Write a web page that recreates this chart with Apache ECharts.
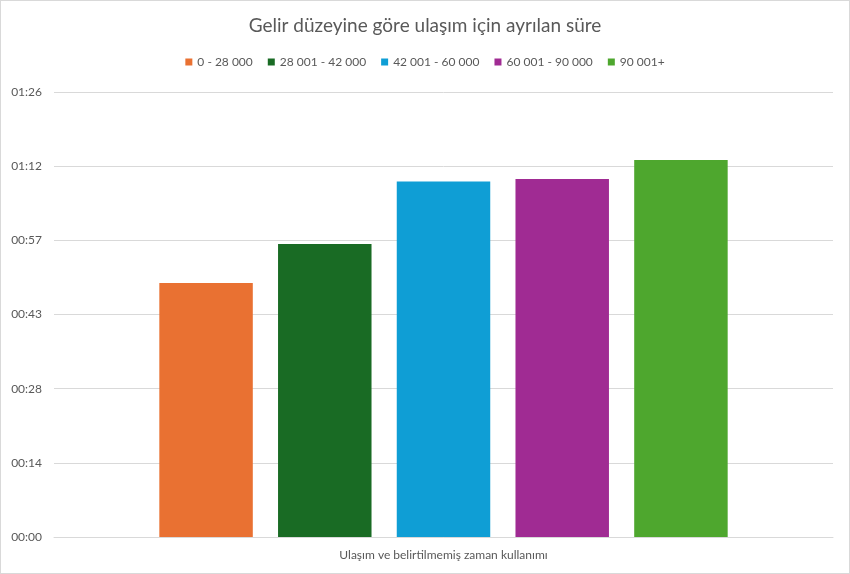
<!DOCTYPE html>
<html>
<head>
<meta charset="utf-8">
<script src="https://cdn.jsdelivr.net/npm/echarts@6/dist/echarts.min.js"></script>
<style>
    html, body { margin: 0; padding: 0; background: #fff; }
    #chart { width: 848px; height: 572px; border: 1px solid #d9d9d9; }
</style>
</head>
<body>
<div id="chart"></div>
<script>
// gelir grupları
var groups = ['0 - 28 000', '28 001 - 42 000', '42 001 - 60 000', '60 001 - 90 000', '90 001+'];
var colors = ['#e97132', '#196b24', '#0f9ed5', '#a02b93', '#4ea72e'];
var category = ['Ulaşım ve belirtilmemiş zaman kullanımı'];
// dakika cinsinden süre
var minutes = [49.3, 56.9, 69.0, 69.5, 73.2];

function toClock(v){   // dakika -> ss:dd
    var m = Math.floor(v + 1e-6);
    var h = Math.floor(m / 60);
    var mm = m % 60;
    return (h < 10 ? '0' : '') + h + ':' + (mm < 10 ? '0' : '') + mm;
}

var textColor = '#595959';
var fontFam = 'Lato, "Noto Sans", sans-serif';

var myChart = echarts.init(document.getElementById('chart'));

var option = {
    animation: false,
    title: {
        text: 'Gelir düzeyine göre ulaşım için ayrılan süre',
        left: 'center',
        top: 10,
        textStyle: {
            color: textColor,
            fontSize: 19,
            fontWeight: 'normal',
            fontFamily: fontFam
        }
    },
    legend: {
        data: groups,
        top: 50,
        left: 'center',
        itemWidth: 7,
        itemHeight: 7,
        itemGap: 15,
        icon: 'rect',
        textStyle: {
            color: textColor,
            fontSize: 12,
            fontFamily: fontFam
        }
    },
    grid: {
        left: 53,
        right: 16,
        top: 91,
        bottom: 36,
        containLabel: false
    },
    xAxis: {
        type: 'category',
        data: category,
        axisLine: { lineStyle: { color: '#d9d9d9' } },
        axisTick: { show: false },
        axisLabel: {
            color: textColor,
            fontSize: 12,
            fontFamily: fontFam,
            margin: 12
        }
    },
    yAxis: {
        type: 'value',
        min: 0,
        max: 86.4,
        interval: 14.4,
        axisLine: { show: false },
        axisTick: { show: false },
        splitLine: { lineStyle: { color: '#d9d9d9' } },
        axisLabel: {
            color: textColor,
            fontSize: 12,
            fontFamily: fontFam,
            margin: 12,
            formatter: toClock
        }
    },
    series: groups.map(function (name, i) {
        return {
            name: name,
            type: 'bar',
            barWidth: '12%',
            barGap: '27%',
            itemStyle: { color: colors[i] },
            data: [minutes[i]]
        };
    })
};

myChart.setOption(option);
</script>
</body>
</html>
